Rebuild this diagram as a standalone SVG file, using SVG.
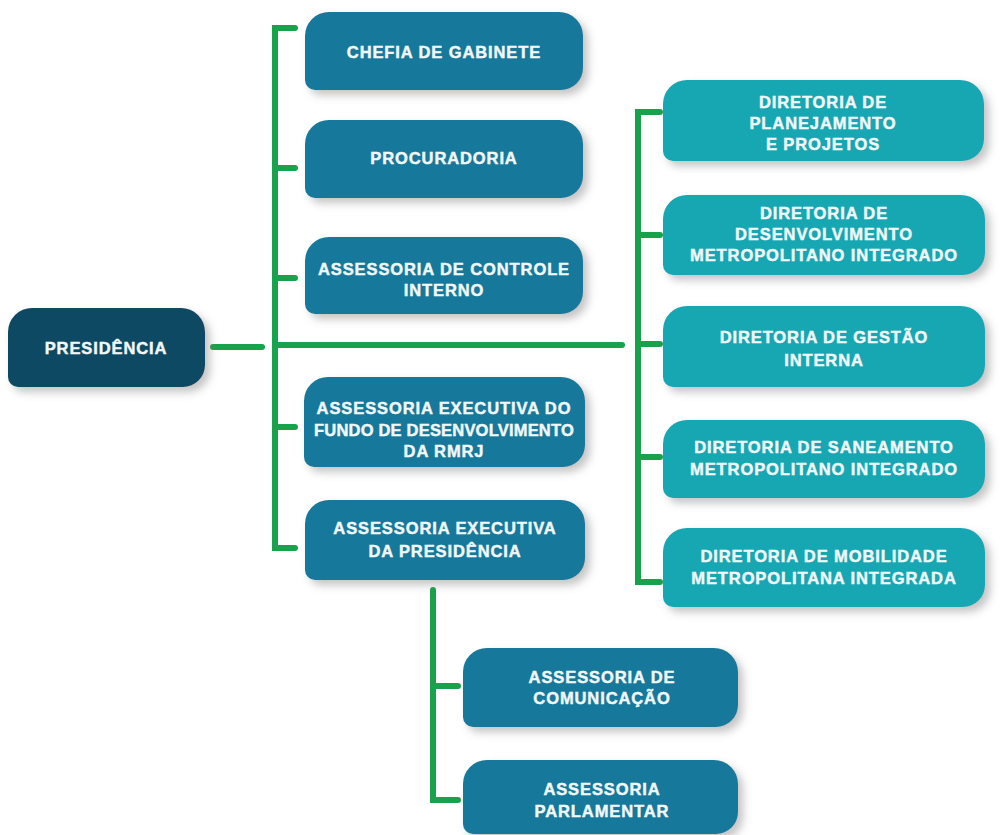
<svg xmlns="http://www.w3.org/2000/svg" width="1004" height="835" viewBox="0 0 1004 835">
<defs>
<filter id="sh" x="-10%" y="-20%" width="130%" height="160%">
<feDropShadow dx="5" dy="5" stdDeviation="4" flood-color="#7a7a7a" flood-opacity="0.45"/>
</filter>
<style>
.dark{fill:#0d4a62;filter:url(#sh)}
.mid{fill:#12789b;filter:url(#sh)}
.teal{fill:#19a7b3;filter:url(#sh)}
text{font-family:"Liberation Sans",Arial,sans-serif;font-weight:bold;font-size:16.5px;fill:#f2f8fa;stroke:#f2f8fa;stroke-width:0.45px;text-anchor:middle;letter-spacing:0.9px}
.ln{fill:none;stroke:#18a24b;stroke-width:6;stroke-linecap:round;stroke-linejoin:miter}
</style>
</defs>
<rect width="1004" height="835" fill="#ffffff"/>
<g id="connectors">
<path class="ln" d="M213 347 H262"/>
<path class="ln" d="M295 28 H275 V548 H295 M275 168 H295 M275 278 H295 M275 427 H295"/>
<path class="ln" d="M275 345 H622"/>
<path class="ln" d="M660 112 H638 V582 H660 M638 235 H660 M638 344 H660 M638 457 H660"/>
<path class="ln" d="M433 590 V800 H458 M433 686 H458"/>
</g>
<g id="presidencia">
<path class="dark" d="M32 308 H181 A24 24 0 0 1 205 332 V365 A22 22 0 0 1 183 387 H18 A10 10 0 0 1 8 377 V332 A24 24 0 0 1 32 308 Z"/>
<text x="106" y="354">PRESIDÊNCIA</text>
</g>
<g id="chefia">
<path class="mid" d="M329 12 H559 A24 24 0 0 1 583 36 V68 A22 22 0 0 1 561 90 H315 A10 10 0 0 1 305 80 V36 A24 24 0 0 1 329 12 Z"/>
<text x="444" y="58">CHEFIA DE GABINETE</text>
</g>
<g id="procuradoria">
<path class="mid" d="M329 120 H559 A24 24 0 0 1 583 144 V176 A22 22 0 0 1 561 198 H315 A10 10 0 0 1 305 188 V144 A24 24 0 0 1 329 120 Z"/>
<text x="444" y="164">PROCURADORIA</text>
</g>
<g id="controle-interno">
<path class="mid" d="M329 237 H559 A24 24 0 0 1 583 261 V292 A22 22 0 0 1 561 314 H315 A10 10 0 0 1 305 304 V261 A24 24 0 0 1 329 237 Z"/>
<text x="444" y="275">ASSESSORIA DE CONTROLE</text>
<text x="444" y="296">INTERNO</text>
</g>
<g id="fundo">
<path class="mid" d="M328 377 H561 A24 24 0 0 1 585 401 V445 A22 22 0 0 1 563 467 H314 A10 10 0 0 1 304 457 V401 A24 24 0 0 1 328 377 Z"/>
<text x="444" y="414">ASSESSORIA EXECUTIVA DO</text>
<text x="444" y="436" style="letter-spacing:0.2px">FUNDO DE DESENVOLVIMENTO</text>
<text x="444" y="457">DA RMRJ</text>
</g>
<g id="executiva-presidencia">
<path class="mid" d="M329 500 H561 A24 24 0 0 1 585 524 V558 A22 22 0 0 1 563 580 H315 A10 10 0 0 1 305 570 V524 A24 24 0 0 1 329 500 Z"/>
<text x="445" y="534">ASSESSORIA EXECUTIVA</text>
<text x="445" y="557">DA PRESIDÊNCIA</text>
</g>
<g id="planejamento">
<path class="teal" d="M687 80 H960 A24 24 0 0 1 984 104 V139 A22 22 0 0 1 962 161 H673 A10 10 0 0 1 663 151 V104 A24 24 0 0 1 687 80 Z"/>
<text x="823" y="108">DIRETORIA DE</text>
<text x="823" y="129">PLANEJAMENTO</text>
<text x="823" y="150">E PROJETOS</text>
</g>
<g id="desenvolvimento">
<path class="teal" d="M687 195 H961 A24 24 0 0 1 985 219 V253 A22 22 0 0 1 963 275 H673 A10 10 0 0 1 663 265 V219 A24 24 0 0 1 687 195 Z"/>
<text x="824" y="219">DIRETORIA DE</text>
<text x="824" y="240">DESENVOLVIMENTO</text>
<text x="824" y="261">METROPOLITANO INTEGRADO</text>
</g>
<g id="gestao">
<path class="teal" d="M687 306 H961 A24 24 0 0 1 985 330 V365 A22 22 0 0 1 963 387 H673 A10 10 0 0 1 663 377 V330 A24 24 0 0 1 687 306 Z"/>
<text x="824" y="343">DIRETORIA DE GESTÃO</text>
<text x="824" y="366">INTERNA</text>
</g>
<g id="saneamento">
<path class="teal" d="M687 420 H961 A24 24 0 0 1 985 444 V476 A22 22 0 0 1 963 498 H673 A10 10 0 0 1 663 488 V444 A24 24 0 0 1 687 420 Z"/>
<text x="824" y="453">DIRETORIA DE SANEAMENTO</text>
<text x="824" y="475">METROPOLITANO INTEGRADO</text>
</g>
<g id="mobilidade">
<path class="teal" d="M687 528 H961 A24 24 0 0 1 985 552 V585 A22 22 0 0 1 963 607 H673 A10 10 0 0 1 663 597 V552 A24 24 0 0 1 687 528 Z"/>
<text x="824" y="562">DIRETORIA DE MOBILIDADE</text>
<text x="824" y="584">METROPOLITANA INTEGRADA</text>
</g>
<g id="comunicacao">
<path class="mid" d="M487 648 H714 A24 24 0 0 1 738 672 V705 A22 22 0 0 1 716 727 H473 A10 10 0 0 1 463 717 V672 A24 24 0 0 1 487 648 Z"/>
<text x="602" y="683">ASSESSORIA DE</text>
<text x="602" y="704">COMUNICAÇÃO</text>
</g>
<g id="parlamentar">
<path class="mid" d="M487 760 H714 A24 24 0 0 1 738 784 V812 A22 22 0 0 1 716 834 H473 A10 10 0 0 1 463 824 V784 A24 24 0 0 1 487 760 Z"/>
<text x="602" y="795">ASSESSORIA</text>
<text x="602" y="817">PARLAMENTAR</text>
</g>
</svg>
